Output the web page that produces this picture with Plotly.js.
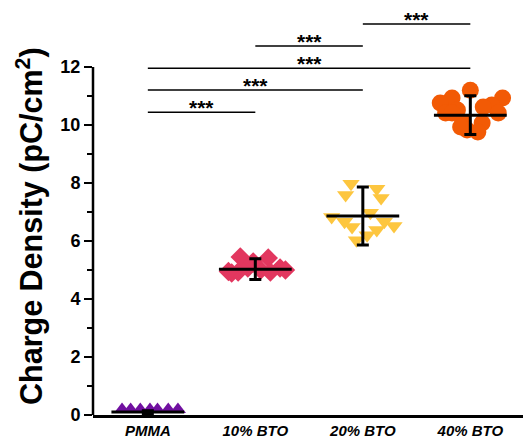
<!DOCTYPE html>
<html>
<head>
<meta charset="utf-8">
<script src="https://cdn.plot.ly/plotly-3.0.1.min.js"></script>
<style>html,body{margin:0;padding:0;background:#fff;}#chart{width:523px;height:438px;}</style>
</head>
<body>
<div id="chart"></div>
<script>
// ---- data ----
const categories = ['PMMA', '10% BTO', '20% BTO', '40% BTO'];
const pmmaY   = [0.19, 0.19, 0.19, 0.19, 0.19, 0.19, 0.19];
const pmmaJit = [-0.24, -0.16, -0.07, 0.02, 0.09, 0.19, 0.28];
const bto10Y   = [5.45, 5.41, 4.90, 5.07, 5.07, 5.00, 4.93, 4.93, 5.28, 4.95, 5.00];
const bto10Jit = [-0.14, 0.12, -0.22, 0.23, -0.07, 0.05, -0.16, 0.14, -0.02, -0.25, 0.28];
const bto20Y   = [7.97, 7.59, 7.80, 7.48, 6.83, 6.66, 6.48, 6.97, 6.66, 6.52, 6.03, 6.20, 6.38];
const bto20Jit = [-0.11, -0.16, 0.13, 0.17, -0.29, -0.17, -0.10, 0.07, 0.20, 0.29, -0.06, 0.04, 0.13];
const bto40Y   = [11.20, 10.93, 10.76, 10.93, 10.69, 10.52, 10.62, 10.41, 10.41, 10.10, 10.07, 9.83, 9.76, 9.93, 10.41];
const bto40Jit = [0, -0.17, -0.28, 0.30, 0.20, -0.12, 0.12, 0.26, -0.23, -0.07, 0.11, -0.03, 0.07, -0.09, -0.17];
const means = [0.10, 5.03, 6.86, 10.34];
const sds   = [0.05, 0.36, 1.00, 0.67];
const yTicks = [0, 2, 4, 6, 8, 10, 12];
const yMinorTicks = [1, 3, 5, 7, 9, 11];
const sigFrom = [0, 0, 0, 1, 2];
const sigTo   = [1, 2, 3, 2, 3];
const sigY    = [10.44, 11.21, 11.96, 12.72, 13.48];
const sigText = ['***', '***', '***', '***', '***'];
const yTitle = 'Charge Density (pC/cm<sup>2</sup>)';

// ---- styles ----
const groups = [
  {y: pmmaY, jit: pmmaJit, color: '#7010A0', symbol: 'triangle-up', size: 14},
  {y: bto10Y, jit: bto10Jit, color: '#E2375F', symbol: 'diamond', size: 15},
  {y: bto20Y, jit: bto20Jit, color: '#FDC63F', symbol: 'triangle-down', size: 15},
  {y: bto40Y, jit: bto40Jit, color: '#F25A05', symbol: 'circle', size: 17}
];

const traces = groups.map((g, i) => ({
  type: 'scatter', mode: 'markers',
  x: g.jit.map(d => i + d), y: g.y,
  marker: {symbol: g.symbol, size: g.size, color: g.color, line: {width: 0}},
  cliponaxis: false, showlegend: false, hoverinfo: 'skip'
}));

traces.push({
  type: 'scatter', mode: 'markers',
  x: categories.map((c, i) => i), y: means,
  marker: {symbol: 'line-ew', size: 52, line: {width: 3, color: '#000'}},
  error_y: {type: 'data', array: sds, visible: true, color: '#000', thickness: 3, width: 6},
  cliponaxis: false, showlegend: false, hoverinfo: 'skip'
});

const shapes = [{
  type: 'line', xref: 'paper', yref: 'y', x0: 0, x1: 0, y0: 0, y1: yTicks[yTicks.length - 1],
  line: {color: '#000', width: 2.5}
}];
const annotations = [];
sigFrom.forEach((a, k) => {
  const b = sigTo[k];
  shapes.push({type: 'line', xref: 'x', yref: 'y', x0: a, x1: b, y0: sigY[k], y1: sigY[k],
    line: {color: '#000', width: 1.5}});
  annotations.push({xref: 'x', yref: 'y', x: (a + b) / 2, y: sigY[k], text: sigText[k],
    showarrow: false, yanchor: 'bottom', yshift: -9,
    font: {family: 'Liberation Sans, Arial', size: 21, color: '#000', weight: 'bold'}});
});
annotations.push({
  xref: 'paper', yref: 'paper', x: -0.147, y: 0.455, xanchor: 'center', yanchor: 'middle',
  text: yTitle, textangle: -90, showarrow: false,
  font: {family: 'Liberation Sans, Arial', size: 30.5, color: '#000', weight: 'bold'}
});

const layout = {
  width: 523, height: 438,
  margin: {l: 93, r: 0, t: 0, b: 23},
  paper_bgcolor: '#fff', plot_bgcolor: '#fff',
  font: {family: 'Liberation Sans, Arial, sans-serif', color: '#000'},
  xaxis: {
    range: [-0.51, 3.49], tickmode: 'array', tickvals: [0, 1, 2, 3], ticktext: categories,
    showline: true, linecolor: '#000', linewidth: 2.5, ticks: '', showgrid: false, zeroline: false,
    tickfont: {size: 15, weight: 'bold', style: 'italic', color: '#000'}
  },
  yaxis: {
    range: [0, 14.31], tickmode: 'array', tickvals: yTicks,
    showline: false, ticks: 'outside', ticklen: 8, tickwidth: 2.5, tickcolor: '#000',
    minor: {tickmode: 'array', tickvals: yMinorTicks, ticks: 'outside', ticklen: 5, tickwidth: 2, tickcolor: '#000'},
    showgrid: false, zeroline: false,
    tickfont: {size: 18, weight: 'bold', color: '#000'}
  },
  shapes: shapes, annotations: annotations
};

Plotly.newPlot('chart', traces, layout, {staticPlot: true, displayModeBar: false});
</script>
</body>
</html>
